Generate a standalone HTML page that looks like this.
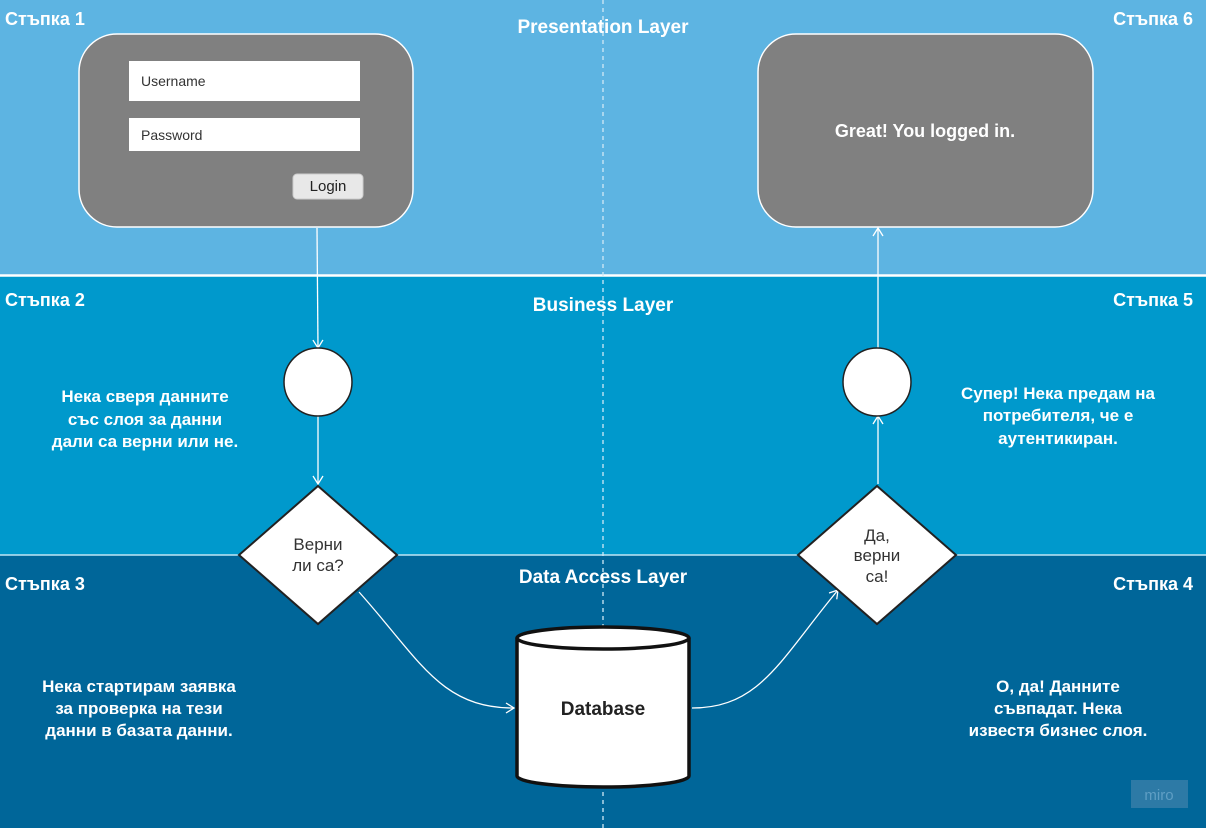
<!DOCTYPE html>
<html><head><meta charset="utf-8"><style>
html,body{margin:0;padding:0;width:1206px;height:828px;overflow:hidden}
svg{display:block}
</style></head><body>
<svg width="1206" height="828" viewBox="0 0 1206 828" xmlns="http://www.w3.org/2000/svg" font-family="Liberation Sans, sans-serif">
<defs><marker id="a" markerWidth="12" markerHeight="12" refX="9" refY="6" orient="auto" markerUnits="userSpaceOnUse"><path d="M1,1 L9,6 L1,11" fill="none" stroke="#fff" stroke-width="1.3"/></marker></defs>
<rect x="0" y="0" width="1206" height="275" fill="#5db4e2"/>
<rect x="0" y="275" width="1206" height="280" fill="#0099cc"/>
<rect x="0" y="555" width="1206" height="273" fill="#006699"/>
<line x1="0" y1="275.5" x2="1206" y2="275.5" stroke="#fff" stroke-width="2.5"/>
<line x1="0" y1="555" x2="1206" y2="555" stroke="#bfe6f5" stroke-width="1.5"/>
<line x1="603" y1="0" x2="603" y2="828" stroke="#cfe9f6" stroke-width="1.3" stroke-dasharray="4,4"/>
<g fill="#fff" font-weight="bold" font-size="18">
<text x="5" y="25">Стъпка 1</text><text x="1193" y="25" text-anchor="end">Стъпка 6</text>
<text x="5" y="306">Стъпка 2</text><text x="1193" y="306" text-anchor="end">Стъпка 5</text>
<text x="5" y="590">Стъпка 3</text><text x="1193" y="590" text-anchor="end">Стъпка 4</text>
<text x="603" y="33" text-anchor="middle" font-size="19">Presentation Layer</text>
<text x="603" y="311" text-anchor="middle" font-size="19">Business Layer</text>
<text x="603" y="583" text-anchor="middle" font-size="19">Data Access Layer</text>
</g>
<rect x="79" y="34" width="334" height="193" rx="38" fill="#808080" stroke="#fff" stroke-width="1.5"/>
<rect x="129" y="61" width="231" height="40" fill="#fff"/>
<rect x="129" y="118" width="231" height="33" fill="#fff"/>
<text x="141" y="86" font-size="14" fill="#333">Username</text>
<text x="141" y="140" font-size="14" fill="#333">Password</text>
<rect x="293" y="174" width="70" height="25" rx="4" fill="#e8e8e8" stroke="#ccc"/>
<text x="328" y="191" font-size="15" fill="#222" text-anchor="middle">Login</text>
<rect x="758" y="34" width="335" height="193" rx="38" fill="#808080" stroke="#fff" stroke-width="1.5"/>
<text x="925" y="137" font-size="18" font-weight="bold" fill="#fff" text-anchor="middle">Great! You logged in.</text>
<g stroke="#fff" stroke-width="1.3" fill="none" marker-end="url(#a)">
<line x1="317" y1="228" x2="318" y2="348"/>
<line x1="318" y1="416" x2="318" y2="484"/>
<line x1="878" y1="484" x2="878" y2="416"/>
<line x1="878" y1="348" x2="878" y2="228"/>
<path d="M359,592 C420,660 440,708 514,708"/>
<path d="M692,708 C760,708 780,660 838,590"/>
</g>
<circle cx="318" cy="382" r="34" fill="#fff" stroke="#222" stroke-width="1.5"/>
<circle cx="877" cy="382" r="34" fill="#fff" stroke="#222" stroke-width="1.5"/>
<polygon points="318,486 397,555 318,624 239,555" fill="#fff" stroke="#222" stroke-width="2"/>
<polygon points="877,486 956,555 877,624 798,555" fill="#fff" stroke="#222" stroke-width="2"/>
<g font-size="17" fill="#333" text-anchor="middle">
<text x="318" y="550">Верни</text><text x="318" y="571">ли са?</text>
<text x="877" y="541">Да,</text><text x="877" y="561">верни</text><text x="877" y="582">са!</text>
</g>
<path d="M517,638 L517,776 A86,11 0 0 0 689,776 L689,638" fill="#fff" stroke="#111" stroke-width="3.5"/>
<ellipse cx="603" cy="638" rx="86" ry="11" fill="#fff" stroke="#111" stroke-width="3.5"/>
<text x="603" y="715" font-size="19" font-weight="bold" fill="#222" text-anchor="middle">Database</text>
<g fill="#fff" font-weight="bold" font-size="17" text-anchor="middle">
<text x="145" y="402">Нека сверя данните</text><text x="145" y="425">със слоя за данни</text><text x="145" y="447">дали са верни или не.</text>
<text x="1058" y="399">Супер! Нека предам на</text><text x="1058" y="421">потребителя, че е</text><text x="1058" y="444">аутентикиран.</text>
<text x="139" y="692">Нека стартирам заявка</text><text x="139" y="714">за проверка на тези</text><text x="139" y="736">данни в базата данни.</text>
<text x="1058" y="692">О, да! Данните</text><text x="1058" y="714">съвпадат. Нека</text><text x="1058" y="736">известя бизнес слоя.</text>
</g>
<rect x="1131" y="780" width="57" height="28" fill="#2d7aa6"/>
<text x="1159" y="800" font-size="15" fill="#5f9ec4" text-anchor="middle">miro</text>
</svg>
</body></html>
